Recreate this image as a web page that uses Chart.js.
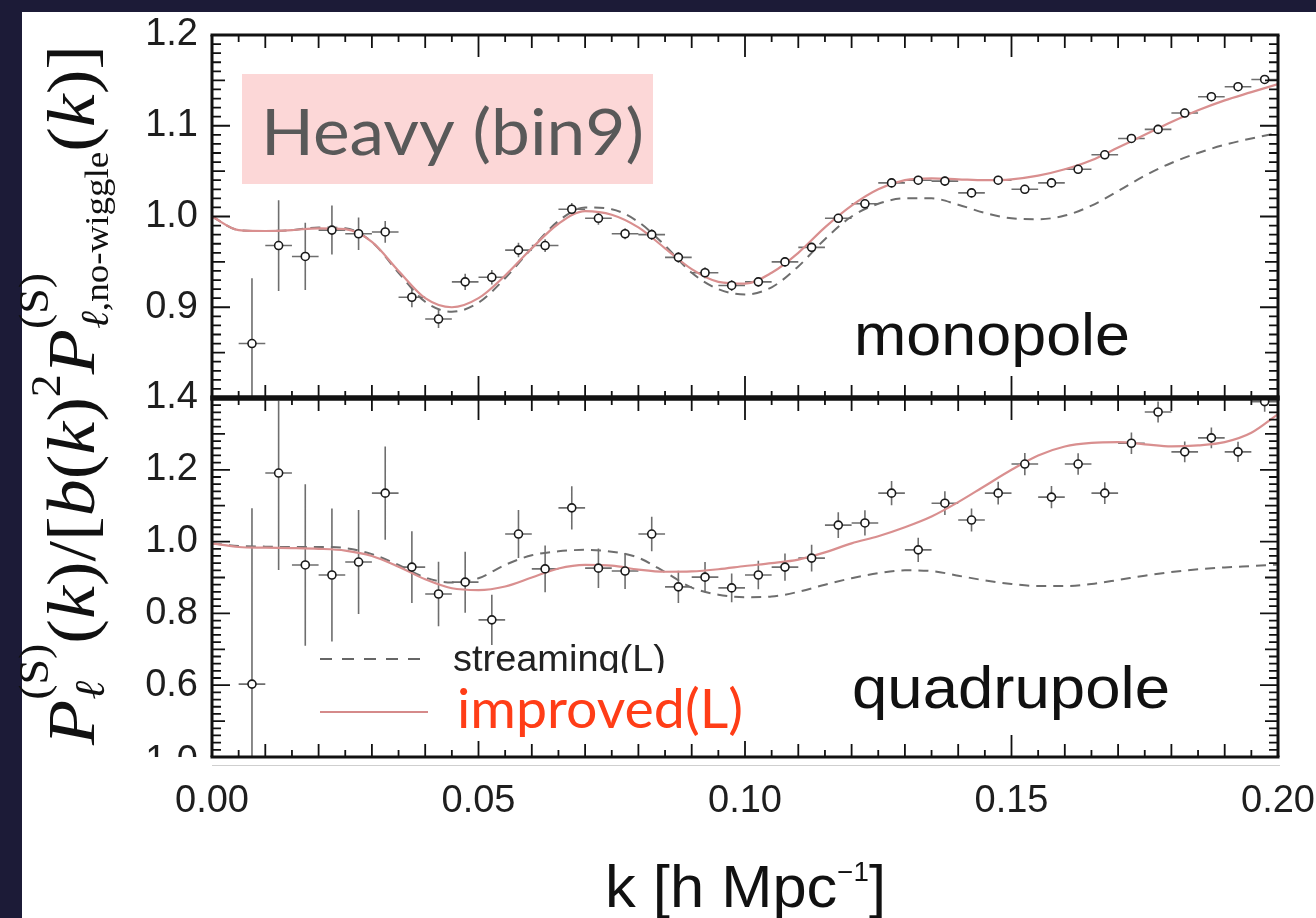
<!DOCTYPE html>
<html>
<head>
<meta charset="utf-8">
<script src="https://cdn.jsdelivr.net/npm/chart.js@4.4.1/dist/chart.umd.min.js"></script>
<style>
  body { margin: 0; background: #1c1b37; width: 1316px; height: 918px; overflow: hidden; }
  #paper { position: absolute; left: 22px; top: 12px; right: 0; bottom: 0; background: #fff; }
  canvas { position: absolute; left: 0; top: 0; }
</style>
</head>
<body>
<div id="paper"></div>
<canvas id="mono" width="1316" height="918"></canvas>
<canvas id="quad" width="1316" height="918"></canvas>
<script>
// bin centres of the measured points
var kPts = [0.0075, 0.0125, 0.0175, 0.0225, 0.0275, 0.0325, 0.0375, 0.0425, 0.0475, 0.0525,
            0.0575, 0.0625, 0.0675, 0.0725, 0.0775, 0.0825, 0.0875, 0.0925, 0.0975, 0.1025,
            0.1075, 0.1125, 0.1175, 0.1225, 0.1275, 0.1325, 0.1375, 0.1425, 0.1475, 0.1525,
            0.1575, 0.1625, 0.1675, 0.1725, 0.1775, 0.1825, 0.1875, 0.1925, 0.1975];

// monopole points and errors
var monoVal = [0.860, 0.968, 0.956, 0.985, 0.981, 0.983, 0.911, 0.887, 0.928, 0.933,
               0.963, 0.968, 1.008, 0.998, 0.981, 0.980, 0.955, 0.938, 0.924, 0.928,
               0.950, 0.966, 0.998, 1.014, 1.037, 1.040, 1.039, 1.026, 1.040, 1.030,
               1.037, 1.052, 1.068, 1.086, 1.096, 1.114, 1.132, 1.143, 1.151];
var monoErr = [0.072, 0.050, 0.037, 0.027, 0.018, 0.012, 0.011, 0.010, 0.009, 0.008,
               0.008, 0.007, 0.007, 0.007, 0.006, 0.006, 0.006, 0.006, 0.006, 0.005,
               0.005, 0.005, 0.005, 0.005, 0.005, 0.005, 0.005, 0.005, 0.005, 0.005,
               0.005, 0.005, 0.005, 0.005, 0.005, 0.005, 0.005, 0.005, 0.005];

// quadrupole points and errors
var quadVal = [0.603, 1.191, 0.935, 0.907, 0.943, 1.135, 0.929, 0.854, 0.887, 0.782,
               1.021, 0.924, 1.094, 0.926, 0.918, 1.021, 0.874, 0.901, 0.871, 0.907,
               0.929, 0.954, 1.046, 1.052, 1.135, 0.977, 1.107, 1.060, 1.135, 1.216,
               1.124, 1.216, 1.135, 1.274, 1.361, 1.250, 1.289, 1.250, 1.390];
var quadErr = [0.490, 0.270, 0.225, 0.185, 0.145, 0.130, 0.100, 0.090, 0.085, 0.070,
               0.067, 0.065, 0.060, 0.055, 0.050, 0.048, 0.045, 0.042, 0.040, 0.040,
               0.038, 0.037, 0.036, 0.035, 0.034, 0.034, 0.033, 0.032, 0.032, 0.031,
               0.031, 0.030, 0.030, 0.030, 0.029, 0.029, 0.029, 0.028, 0.028];
var kHalfBin = 0.0025;

// model curves
var kCurve = [0.000, 0.005, 0.010, 0.015, 0.020, 0.025, 0.030, 0.035, 0.040, 0.045,
              0.050, 0.055, 0.060, 0.065, 0.070, 0.075, 0.080, 0.085, 0.090, 0.095,
              0.100, 0.105, 0.110, 0.115, 0.120, 0.125, 0.130, 0.135, 0.140, 0.145,
              0.150, 0.155, 0.160, 0.165, 0.170, 0.175, 0.180, 0.185, 0.190, 0.195, 0.200];
var monoImproved = [1.000, 0.985, 0.984, 0.985, 0.987, 0.986, 0.972, 0.940, 0.910, 0.900,
                    0.910, 0.935, 0.965, 0.992, 1.006, 1.002, 0.988, 0.965, 0.942, 0.928,
                    0.926, 0.938, 0.960, 0.988, 1.012, 1.030, 1.040, 1.042, 1.041, 1.040,
                    1.041, 1.045, 1.052, 1.062, 1.076, 1.090, 1.104, 1.117, 1.128, 1.137, 1.146];
var monoStreaming = [1.000, 0.985, 0.984, 0.985, 0.988, 0.987, 0.972, 0.938, 0.906, 0.895,
                     0.905, 0.932, 0.965, 0.995, 1.010, 1.008, 0.994, 0.968, 0.938, 0.920,
                     0.914, 0.922, 0.945, 0.975, 1.000, 1.014, 1.020, 1.020, 1.013, 1.004,
                     0.998, 0.997, 1.001, 1.012, 1.028, 1.045, 1.059, 1.070, 1.079, 1.086, 1.092];
var quadImproved = [0.995, 0.985, 0.983, 0.982, 0.980, 0.975, 0.960, 0.930, 0.895, 0.870,
                    0.865, 0.875, 0.900, 0.925, 0.935, 0.933, 0.922, 0.916, 0.917, 0.923,
                    0.932, 0.940, 0.950, 0.970, 0.995, 1.015, 1.040, 1.070, 1.110, 1.155,
                    1.200, 1.240, 1.265, 1.275, 1.277, 1.271, 1.265, 1.268, 1.277, 1.303, 1.355];
var quadStreaming = [0.995, 0.988, 0.986, 0.985, 0.985, 0.982, 0.965, 0.935, 0.900, 0.886,
                     0.898, 0.935, 0.962, 0.973, 0.977, 0.972, 0.955, 0.915, 0.872, 0.852,
                     0.845, 0.847, 0.860, 0.880, 0.898, 0.912, 0.920, 0.918, 0.905, 0.892,
                     0.882, 0.876, 0.876, 0.882, 0.893, 0.905, 0.915, 0.923, 0.928, 0.932, 0.936];

var xTicks = [0, 0.05, 0.10, 0.15, 0.20];

var SANS = '"Liberation Sans", Arial, sans-serif';
var SERIF = '"Liberation Serif", "DejaVu Serif", serif';
var GILL = 'Lato, "Open Sans", sans-serif';

function pairs(xs, ys) {
    return xs.map(function (x, i) { return {x: x, y: ys[i]}; });
}

// draws a string stretched to a given width
function fitText(ctx, text, x, y, font, color, width) {
    ctx.save();
    ctx.font = font;
    ctx.fillStyle = color;
    ctx.textBaseline = 'alphabetic';
    var w = ctx.measureText(text).width;
    ctx.translate(x, y);
    ctx.scale(width / w, 1);
    ctx.fillText(text, 0, 0);
    ctx.restore();
}

var errorBars = {
    id: 'errorBars',
    beforeDatasetsDraw(chart) {
        var ds = chart.data.datasets[0];
        var ctx = chart.ctx, a = chart.chartArea, x = chart.scales.x, y = chart.scales.y;
        ctx.save();
        ctx.beginPath();
        ctx.rect(a.left, a.top, a.right - a.left, a.bottom - a.top);
        ctx.clip();
        ctx.strokeStyle = '#6e6e6e';
        ctx.lineWidth = 1.6;
        ctx.beginPath();
        ds.data.forEach(function (p, i) {
            var e = ds.yErr[i];
            var px = x.getPixelForValue(p.x), py = y.getPixelForValue(p.y);
            ctx.moveTo(px, y.getPixelForValue(p.y - e));
            ctx.lineTo(px, y.getPixelForValue(p.y + e));
            ctx.moveTo(x.getPixelForValue(p.x - kHalfBin), py);
            ctx.lineTo(x.getPixelForValue(p.x + kHalfBin), py);
        });
        ctx.stroke();
        ctx.restore();
    }
};

// frame box with inward ticks on all four sides
var frameTicks = {
    id: 'frameTicks',
    afterDatasetsDraw(chart, args, o) {
        var ctx = chart.ctx, a = chart.chartArea, x = chart.scales.x, y = chart.scales.y;
        ctx.save();
        ctx.strokeStyle = '#111';
        ctx.lineWidth = 1.8;
        ctx.beginPath();
        for (var i = 0; i <= 40; i++) {
            var px = x.getPixelForValue(i * 0.005);
            var len = i % 10 === 0 ? 22 : (i % 2 === 0 ? 13 : 7);
            ctx.moveTo(px, a.top); ctx.lineTo(px, a.top + len);
            ctx.moveTo(px, a.bottom); ctx.lineTo(px, a.bottom - len);
        }
        var n = Math.round((y.max - y.min) / o.minor);
        for (var j = 0; j <= n; j++) {
            var py = y.getPixelForValue(y.min + j * o.minor);
            var l = j % 10 === 0 ? 18 : (j % 5 === 0 ? 13 : 9);
            ctx.moveTo(a.left, py); ctx.lineTo(a.left + l, py);
            ctx.moveTo(a.right, py); ctx.lineTo(a.right - l, py);
        }
        ctx.stroke();

        ctx.lineWidth = 3;
        ctx.beginPath();
        ctx.moveTo(a.left, a.top); ctx.lineTo(a.left, a.bottom);
        ctx.moveTo(a.right, a.top); ctx.lineTo(a.right, a.bottom);
        ctx.stroke();
        ctx.lineWidth = o.topWidth;
        ctx.beginPath(); ctx.moveTo(a.left - 1.5, a.top); ctx.lineTo(a.right + 1.5, a.top); ctx.stroke();
        ctx.lineWidth = o.bottomWidth;
        ctx.beginPath(); ctx.moveTo(a.left - 1.5, a.bottom); ctx.lineTo(a.right + 1.5, a.bottom); ctx.stroke();
        ctx.restore();
    }
};

// y axis title, laid out piece by piece and rotated
var yTitle = [
    ['P', 'italic', 1, 0],
    {sup: [['(S)', 'normal', 0.62, -0.68]], sub: [['\u2113', 'italic', 0.62, 0.15]]},
    ['(', 'normal', 1, 0], ['k', 'italic', 1, 0], [')', 'normal', 1, 0],
    ['/', 'normal', 1, 0], ['[', 'normal', 1, 0], ['b', 'italic', 1, 0],
    ['(', 'normal', 1, 0], ['k', 'italic', 1, 0], [')', 'normal', 1, 0],
    ['2', 'normal', 0.62, -0.5],
    ['P', 'italic', 1, 0],
    {sup: [['(S)', 'normal', 0.62, -0.68]], sub: [['\u2113', 'italic', 0.58, 0.2], [',no\u2010wiggle', 'normal', 0.5, 0.2]]},
    ['(', 'normal', 1, 0], ['k', 'italic', 1, 0], [')', 'normal', 1, 0], [']', 'normal', 1, 0]
];

function drawYTitle(ctx) {
    var F = 68, baseX = 94, yStart = 745, yEnd = 45;
    function runWidth(runs) {
        var w = 0;
        runs.forEach(function (r) {
            ctx.font = r[1] + ' ' + (F * r[2]) + 'px ' + SERIF;
            w += ctx.measureText(r[0]).width;
        });
        return w;
    }
    var total = 0;
    yTitle.forEach(function (it) {
        total += it.sup ? Math.max(runWidth(it.sup), runWidth(it.sub)) : runWidth([it]);
    });
    ctx.save();
    ctx.translate(baseX, yStart);
    ctx.rotate(-Math.PI / 2);
    ctx.scale((yStart - yEnd) / total, 1);
    ctx.fillStyle = '#111';
    ctx.textBaseline = 'alphabetic';
    var pos = 0;
    function drawRuns(runs, start) {
        var p = start;
        runs.forEach(function (r) {
            ctx.font = r[1] + ' ' + (F * r[2]) + 'px ' + SERIF;
            ctx.fillText(r[0], p, r[3] * F);
            p += ctx.measureText(r[0]).width;
        });
        return p - start;
    }
    yTitle.forEach(function (it) {
        if (it.sup) {
            var w1 = drawRuns(it.sup, pos), w2 = drawRuns(it.sub, pos);
            pos += Math.max(w1, w2);
        } else {
            pos += drawRuns([it], pos);
        }
    });
    ctx.restore();
}

function drawXTitle(ctx) {
    var x0 = 605, base = 907, target = 281;
    ctx.save();
    ctx.font = '60px ' + SANS;
    var w1 = ctx.measureText('k [h Mpc').width;
    ctx.font = '27px ' + SANS;
    var w2 = ctx.measureText('\u22121').width;
    ctx.font = '60px ' + SANS;
    var w3 = ctx.measureText(']').width;
    var s = target / (w1 + w2 + w3);
    ctx.translate(x0, base);
    ctx.scale(s, 1);
    ctx.fillStyle = '#111';
    ctx.fillText('k [h Mpc', 0, 0);
    ctx.font = '27px ' + SANS;
    ctx.fillText('\u22121', w1, -26);
    ctx.font = '60px ' + SANS;
    ctx.fillText(']', w1 + w2, 0);
    ctx.restore();
}

// annotations of the slide, drawn on the upper canvas
var overlay = {
    id: 'overlay',
    afterDraw(chart) {
        var ctx = chart.ctx;
        ctx.save();
        // pink label box
        ctx.fillStyle = '#fcd7d7';
        ctx.fillRect(242, 74, 411, 110);
        fitText(ctx, 'Heavy (bin9)', 261, 155, '64px ' + GILL, '#595959', 383);

        fitText(ctx, 'monopole', 854, 355, '60px ' + SANS, '#111', 276);
        fitText(ctx, 'quadrupole', 852, 708, '60px ' + SANS, '#111', 318);

        // legend
        ctx.lineWidth = 2;
        ctx.strokeStyle = '#666';
        ctx.setLineDash([12, 10]);
        ctx.beginPath(); ctx.moveTo(320, 659); ctx.lineTo(428, 659); ctx.stroke();
        ctx.setLineDash([]);
        ctx.strokeStyle = '#d58a8a';
        ctx.lineWidth = 2.2;
        ctx.beginPath(); ctx.moveTo(320, 712); ctx.lineTo(428, 712); ctx.stroke();
        fitText(ctx, 'streaming(L)', 453, 671, '37px ' + SANS, '#222', 213);
        ctx.fillStyle = '#fff';
        ctx.fillRect(452, 673, 296, 68);
        fitText(ctx, 'improved(L)', 457, 728, '54px ' + GILL, '#ff3d17', 286);

        // cut label of the panel below
        ctx.save();
        ctx.beginPath(); ctx.rect(100, 700, 110, 57); ctx.clip();
        ctx.font = '38px ' + SANS;
        ctx.fillStyle = '#1e1e1e';
        ctx.textAlign = 'right';
        ctx.textBaseline = 'middle';
        ctx.fillText('1.0', 198, 762);
        ctx.restore();

        ctx.strokeStyle = '#cfcfcf';
        ctx.lineWidth = 1;
        ctx.beginPath(); ctx.moveTo(212, 765.5); ctx.lineTo(1280, 765.5); ctx.stroke();

        drawYTitle(ctx);
        drawXTitle(ctx);
        ctx.restore();
    }
};

function panelDatasets(vals, errs, improved, streaming) {
    return [{
        type: 'scatter',
        data: pairs(kPts, vals),
        yErr: errs,
        pointRadius: 4,
        pointBackgroundColor: '#fff',
        pointBorderColor: '#1a1a1a',
        pointBorderWidth: 1.6,
        order: 0
    }, {
        type: 'line',
        data: pairs(kCurve, improved),
        borderColor: '#d98f8f',
        borderWidth: 2.2,
        pointRadius: 0,
        cubicInterpolationMode: 'monotone',
        order: 1
    }, {
        type: 'line',
        data: pairs(kCurve, streaming),
        borderColor: '#6e6e6e',
        borderWidth: 2,
        borderDash: [10, 7],
        pointRadius: 0,
        cubicInterpolationMode: 'monotone',
        order: 2
    }];
}

var tickFont = {family: SANS, size: 38};

function noPad(s) {
    s.paddingLeft = 0; s.paddingRight = 0; s.paddingTop = 0; s.paddingBottom = 0;
}

new Chart(document.getElementById('mono'), {
    type: 'scatter',
    data: {datasets: panelDatasets(monoVal, monoErr, monoImproved, monoStreaming)},
    options: {
        responsive: false,
        animation: false,
        events: [],
        layout: {padding: {left: 0, right: 38, top: 35, bottom: 918 - 398}},
        plugins: {
            legend: {display: false},
            tooltip: {enabled: false},
            frameTicks: {minor: 0.01, topWidth: 3, bottomWidth: 5}
        },
        scales: {
            x: {type: 'linear', min: 0, max: 0.2, display: false},
            y: {
                min: 0.8, max: 1.2,
                grid: {display: false, drawTicks: false},
                border: {display: false},
                ticks: {
                    stepSize: 0.1, padding: 14, autoSkip: false,
                    font: tickFont, color: '#1e1e1e',
                    callback: function (v) { return v < 0.85 ? '' : v.toFixed(1); }
                },
                afterFit: function (s) { s.width = 212; noPad(s); }
            }
        }
    },
    plugins: [errorBars, frameTicks]
});

new Chart(document.getElementById('quad'), {
    type: 'scatter',
    data: {datasets: panelDatasets(quadVal, quadErr, quadImproved, quadStreaming)},
    options: {
        responsive: false,
        animation: false,
        events: [],
        layout: {padding: {left: 0, right: 38, top: 398, bottom: 0}},
        plugins: {
            legend: {display: false},
            tooltip: {enabled: false},
            frameTicks: {minor: 0.02, topWidth: 5, bottomWidth: 3}
        },
        scales: {
            x: {
                type: 'linear', min: 0, max: 0.2,
                grid: {display: false, drawTicks: false},
                border: {display: false},
                afterBuildTicks: function (s) { s.ticks = xTicks.map(function (v) { return {value: v}; }); },
                ticks: {
                    padding: 22, autoSkip: false, maxRotation: 0,
                    font: tickFont, color: '#1e1e1e',
                    callback: function (v) { return v.toFixed(2); }
                },
                afterFit: function (s) { s.height = 918 - 757; noPad(s); }
            },
            y: {
                min: 0.4, max: 1.4,
                grid: {display: false, drawTicks: false},
                border: {display: false},
                ticks: {
                    stepSize: 0.2, padding: 14, autoSkip: false,
                    font: tickFont, color: '#1e1e1e',
                    callback: function (v) { return v < 0.5 ? '' : v.toFixed(1); }
                },
                afterFit: function (s) { s.width = 212; noPad(s); }
            }
        }
    },
    plugins: [errorBars, frameTicks, overlay]
});
</script>
</body>
</html>
